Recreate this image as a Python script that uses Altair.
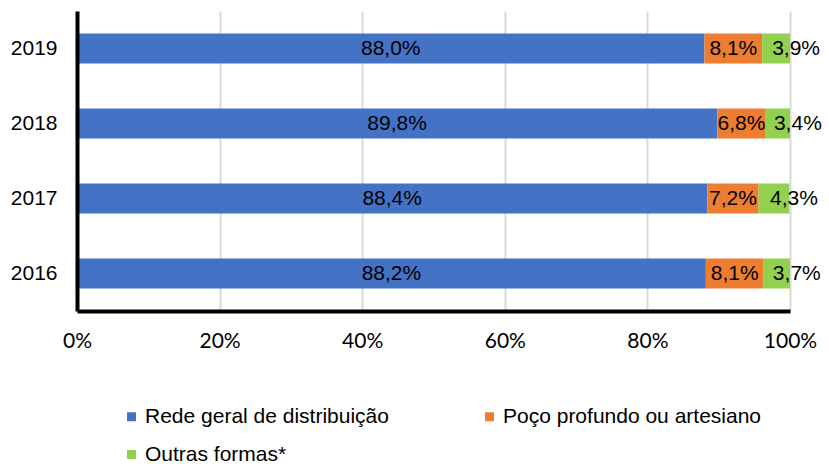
import altair as alt
import pandas as pd

years = ["2019", "2018", "2017", "2016"]
categories = ["Rede geral de distribuição", "Poço profundo ou artesiano", "Outras formas*"]
rede = [88.0, 89.8, 88.4, 88.2]
poco = [8.1, 6.8, 7.2, 8.1]
outras = [3.9, 3.4, 4.3, 3.7]
colors = ["#4472C4", "#ED7D31", "#92D050"]
x_ticks = [0, 20, 40, 60, 80, 100]

rows = []
for i, y in enumerate(years):
    for k, (cat, vals) in enumerate(zip(categories, [rede, poco, outras])):
        v = vals[i]
        rows.append({"ano": y, "cat": cat, "ordem": k, "valor": v,
                     "rotulo": f"{v:.1f}".replace(".", ",") + "%"})
df = pd.DataFrame(rows)

base = alt.Chart(df).transform_stack(
    stack="valor", groupby=["ano"], as_=["x0", "x1"], sort=[alt.SortField("ordem")]
).transform_calculate(mid="(datum.x0 + datum.x1) / 2")

y_enc = alt.Y("ano:N", sort=years,
              scale=alt.Scale(paddingInner=0.6, paddingOuter=0.3),
              axis=alt.Axis(title=None, ticks=False, labelFontSize=21, labelFont="Liberation Sans",
                            labelColor="black", labelPadding=20, domainColor="black",
                            domainWidth=4, grid=False, zindex=1))

bars = base.mark_bar().encode(
    x=alt.X("x0:Q", scale=alt.Scale(domain=[0, 100], nice=False),
            axis=alt.Axis(title=None, values=x_ticks, labelExpr="datum.value + '%'",
                          ticks=False, grid=True, gridColor="#D9D9D9", gridWidth=2,
                          domainColor="black", domainWidth=4, labelFont="Lato",
                          labelFontSize=21, labelColor="black", labelPadding=19,
                          labelFlush=False)),
    x2="x1:Q",
    y=y_enc,
    color=alt.Color("cat:N", scale=alt.Scale(domain=categories, range=colors),
                    legend=alt.Legend(orient="none", legendX=44, legendY=395, columns=2,
                                      direction="horizontal",
                                      title=None, symbolType="square", symbolSize=81,
                                      labelFontSize=21, labelFont="Liberation Sans",
                                      labelColor="black", labelLimit=400, columnPadding=90,
                                      rowPadding=16, labelOffset=3, symbolStrokeWidth=0,
                                      padding=0)),
)

text_style = dict(fontSize=21, font="Liberation Sans", color="black", baseline="middle", align="center")

labels_main = base.transform_filter("datum.ordem < 2").mark_text(**text_style).encode(
    x="mid:Q", y=alt.Y("ano:N", sort=years), text="rotulo:N")
labels_other = base.transform_filter("datum.ordem == 2").mark_text(dx=20, **text_style).encode(
    x="mid:Q", y=alt.Y("ano:N", sort=years), text="rotulo:N")

chart = alt.layer(bars, labels_main, labels_other).properties(
    width=713, height=300,
    padding={"left": 77, "top": 11, "right": 39, "bottom": 153},
    autosize="none",
).configure_view(stroke=None)

chart.save("out.html", embed_options={"renderer": "svg", "actions": False})
